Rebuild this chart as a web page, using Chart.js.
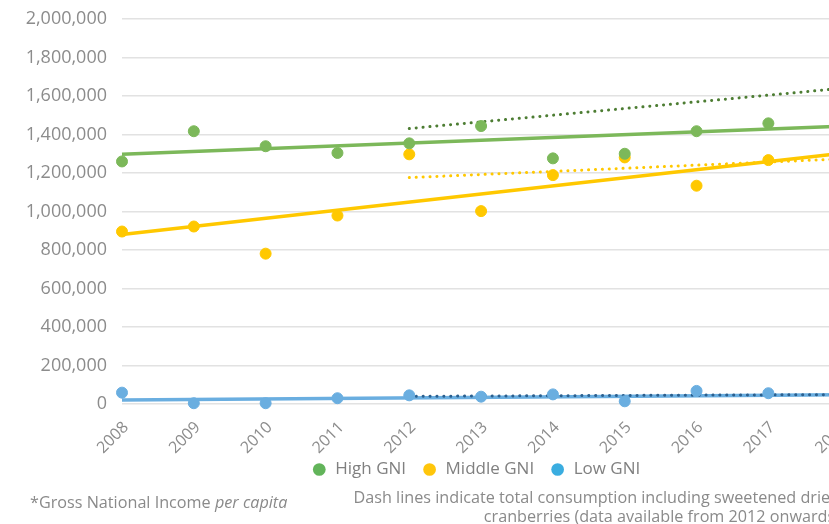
<!DOCTYPE html>
<html>
<head>
<meta charset="utf-8">
<script src="https://cdn.jsdelivr.net/npm/chart.js@4/dist/chart.umd.min.js"></script>
<style>
  body { margin: 0; overflow: hidden; background: #fff; font-family: "Open Sans", sans-serif; }
  #wrap { position: relative; width: 960px; height: 524px; }
  .note { position: absolute; color: #8a8a8a; font-size: 16.2px; line-height: 19px; white-space: nowrap; }
</style>
</head>
<body>
<div id="wrap">
  <canvas id="myChart" width="960" height="499"></canvas>
  <div class="note" style="left:30px; top:493px;">*Gross National Income <i>per capita</i></div>
  <div class="note" style="right:120px; top:488px; text-align:right;">Dash lines indicate total consumption including sweetened dried<br>cranberries (data available from 2012 onwards)</div>
</div>
<script>
const years = [2008, 2009, 2010, 2011, 2012, 2013, 2014, 2015, 2016, 2017];
const highGni = [1260000, 1417000, 1339000, 1304000, 1354000, 1444000, 1276000, 1300000, 1417000, 1458000];
const middleGni = [896000, 922000, 781000, 979000, 1297000, 1002000, 1189000, 1281000, 1134000, 1267000];
const lowGni = [59000, 4000, 4000, 30000, 45000, 38000, 50000, 14000, 68000, 56000];

// trend lines (read at their end points)
const trendYears = [2008, 2018];
const highTrend = [1297000, 1443000];
const middleTrend = [880000, 1301000];
const lowTrend = [21000, 48000];
const totalYears = [2012, 2018];
const highTotalTrend = [1431000, 1639000];
const middleTotalTrend = [1176000, 1273000];
const lowTotalTrend = [40000, 49000];

const legendColors = ['#62b45a', '#ffc60b', '#3aade0'];

function pts(xs, ys) {
    return xs.map((x, i) => ({ x: x, y: ys[i] }));
}

function dots(label, values, color) {
    return {
        label: label,
        data: pts(years, values),
        backgroundColor: color,
        borderColor: color,
        pointRadius: 5.5,
        pointHoverRadius: 5.5,
        showLine: false,
        clip: false,
        order: 0
    };
}

function trend(xs, values, color, width, dash) {
    return {
        label: '',
        data: pts(xs, values),
        borderColor: color,
        backgroundColor: color,
        borderWidth: width,
        borderDash: dash || [],
        borderCapStyle: dash ? 'round' : 'butt',
        pointRadius: 0,
        showLine: true,
        clip: false,
        order: dash ? 1 : 2
    };
}

// nudge the legend closer to the axis labels
const legendShift = {
    id: 'legendShift',
    afterLayout(chart) {
        const lg = chart.legend;
        lg.top -= 9; lg.bottom -= 9;
        lg.left += 20; lg.right += 20;
    }
};

const ctx = document.getElementById('myChart').getContext('2d');
const myChart = new Chart(ctx, {
    type: 'scatter',
    data: {
        datasets: [
            dots('High GNI', highGni, '#7cb85a'),
            dots('Middle GNI', middleGni, '#ffc800'),
            dots('Low GNI', lowGni, '#6aaee0'),
            trend(trendYears, highTrend, '#7cb85a', 3.5),
            trend(trendYears, middleTrend, '#ffc800', 3.5),
            trend(trendYears, lowTrend, '#6aaee0', 3.5),
            trend(totalYears, highTotalTrend, '#4d7d33', 3, [0.1, 6.8]),
            trend(totalYears, middleTotalTrend, '#ffc800', 3, [0.1, 6.8]),
            trend(totalYears, lowTotalTrend, '#2b5f8e', 3, [0.1, 6.8])
        ]
    },
    plugins: [legendShift],
    options: {
        responsive: false,
        animation: false,
        layout: { padding: { top: 19, right: 48, bottom: 2, left: 0 } },
        scales: {
            x: {
                type: 'linear',
                min: 2008,
                max: 2019,
                grid: { display: false },
                border: { display: false },
                ticks: {
                    stepSize: 1,
                    maxRotation: 45,
                    minRotation: 45,
                    padding: 6,
                    labelOffset: 4,
                    color: '#8c8c8c',
                    font: { family: 'Open Sans', size: 16 },
                    callback: v => String(v)
                },
                afterFit: s => { s.height = 50; }
            },
            y: {
                min: 0,
                max: 2000000,
                grid: { color: '#e2e2e2', lineWidth: 1.5, drawTicks: true, tickLength: 15, tickColor: 'rgba(0,0,0,0)' },
                border: { display: false },
                ticks: {
                    stepSize: 200000,
                    padding: 0,
                    color: '#8c8c8c',
                    font: { family: 'Open Sans', size: 18 },
                    callback: v => v.toLocaleString('en-US')
                },
                afterFit: s => { s.width = 122; }
            }
        },
        plugins: {
            tooltip: { enabled: false },
            legend: {
                position: 'bottom',
                labels: {
                    usePointStyle: true,
                    boxWidth: 15,
                    boxHeight: 9,
                    padding: 16,
                    color: '#808080',
                    font: { family: 'Open Sans', size: 17 },
                    filter: item => item.datasetIndex < 3,
                    generateLabels: chart => chart.data.datasets.map((ds, i) => ({
                        text: ds.label,
                        fillStyle: legendColors[i] || ds.borderColor,
                        strokeStyle: legendColors[i] || ds.borderColor,
                        lineWidth: 0,
                        pointStyle: 'circle',
                        fontColor: '#808080',
                        datasetIndex: i
                    }))
                }
            }
        }
    }
});
</script>
</body>
</html>
